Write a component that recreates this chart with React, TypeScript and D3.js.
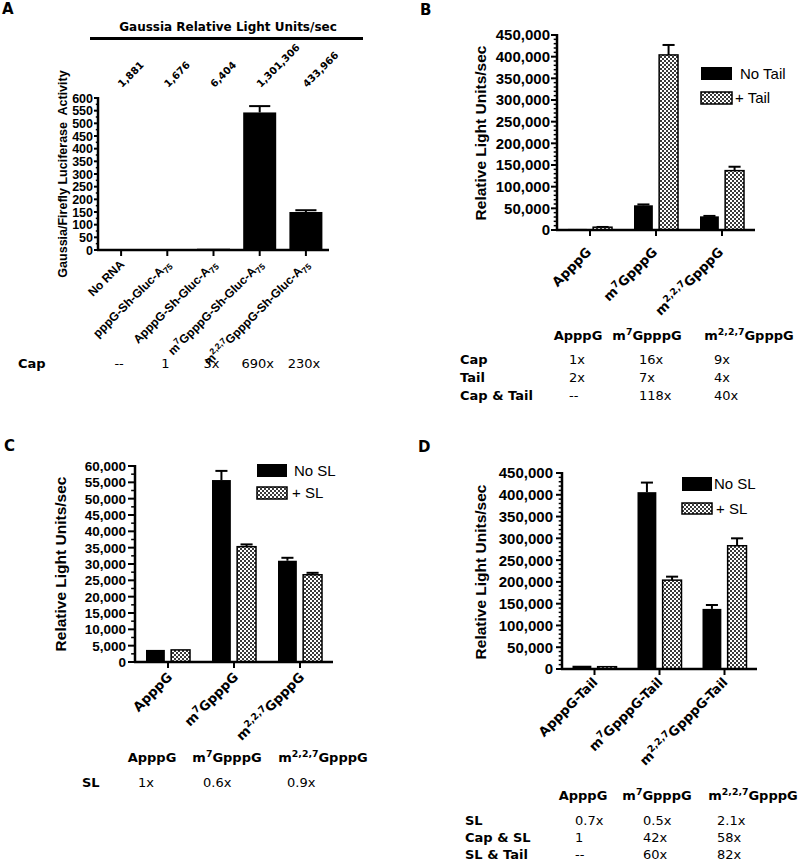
import React from 'react';
import * as d3 from 'd3';

const ARIAL = "'Liberation Sans', Arial, Helvetica, sans-serif";
const VERD = "'DejaVu Sans', Verdana, sans-serif";

// ---------- Panel A data ----------
const aCategories = [
  'No RNA',
  'pppG-Sh-Gluc-A_{75}',
  'ApppG-Sh-Gluc-A_{75}',
  'm^{7}GpppG-Sh-Gluc-A_{75}',
  'm^{2,2,7}GpppG-Sh-Gluc-A_{75}',
];
const aValues = [2.5, 2.2, 5, 543, 150];
const aErrTop = [2.5, 2.2, 5, 568, 157];
const aRLU = ['1,881', '1,676', '6,404', '1,301,306', '433,966'];
const aCap = ['--', '1', '3x', '690x', '230x'];

// ---------- Panel B data ----------
const bCategories = ['ApppG', 'm^{7}GpppG', 'm^{2,2,7}GpppG'];
const bNoTail = [2500, 57000, 31500];
const bNoTailErr = [2500, 59000, 32500];
const bTail = [6500, 404000, 137000];
const bTailErr = [7000, 427000, 146000];
const bTableCols = ['ApppG', 'm^{7}GpppG', 'm^{2,2,7}GpppG'];
const bTableRows = ['Cap', 'Tail', 'Cap & Tail'];
const bTableValues = [
  ['1x', '16x', '9x'],
  ['2x', '7x', '4x'],
  ['--', '118x', '40x'],
];

// ---------- Panel C data ----------
const cCategories = ['ApppG ', 'm^{7}GpppG ', 'm^{2,2,7}GpppG '];
const cNoSL = [3700, 55700, 31000];
const cNoSLErr = [3700, 58500, 31900];
const cSL = [3700, 35300, 26700];
const cSLErr = [3700, 36000, 27300];
const cTableCols = ['ApppG', 'm^{7}GpppG', 'm^{2,2,7}GpppG'];
const cTableRows = ['SL'];
const cTableValues = [['1x', '0.6x', '0.9x']];

// ---------- Panel D data ----------
const dCategories = ['ApppG-Tail', 'm^{7}GpppG-Tail', 'm^{2,2,7}GpppG-Tail'];
const dNoSL = [7500, 406000, 138000];
const dNoSLErr = [7500, 428000, 147000];
const dSL = [5300, 204000, 283000];
const dSLErr = [5300, 212000, 300000];
const dTableCols = ['ApppG', 'm^{7}GpppG', 'm^{2,2,7}GpppG'];
const dTableRows = ['SL', 'Cap & SL', 'SL & Tail'];
const dTableValues = [
  ['0.7x', '0.5x', '2.1x'],
  ['1', '42x', '58x'],
  ['--', '60x', '82x'],
];

type Seg = { t: string; s?: 'sup' | 'sub' };
function parseRich(str: string): Seg[] {
  const out: Seg[] = [];
  const re = /([\^_])\{([^}]*)\}/g;
  let last = 0;
  let m: RegExpExecArray | null;
  while ((m = re.exec(str))) {
    if (m.index > last) out.push({ t: str.slice(last, m.index) });
    out.push({ t: m[2], s: m[1] === '^' ? 'sup' : 'sub' });
    last = re.lastIndex;
  }
  if (last < str.length) out.push({ t: str.slice(last) });
  return out;
}

function Rich({ text, fs }: { text: string; fs: number }) {
  const segs = parseRich(text.trim());
  let cur = 0;
  return (
    <>
      {segs.map((sg, i) => {
        const target = sg.s === 'sup' ? -fs * 0.4 : sg.s === 'sub' ? fs * 0.25 : 0;
        const dy = target - cur;
        cur = target;
        return (
          <tspan key={i} dy={dy} fontSize={sg.s ? fs * 0.72 : fs}>
            {sg.t}
          </tspan>
        );
      })}
    </>
  );
}

interface Series {
  name: string;
  values: number[];
  errTop: number[];
  hatched: boolean;
}

interface PanelCfg {
  x0: number; x1: number; yTop: number; y0: number;
  max: number; major: number; minor: number;
  tickLen: number; labelGap: number; tickFs: number;
  cats: string[];
  series: Series[];
  groupW: number; padInner: number;
  xlabFs: number; xlabFont: string; xlabDx: number; xlabDy: number;
  ylabel: string; ylabX: number; ylabY: number; ylabFs: number;
}

function BarPanel({ c }: { c: PanelCfg }) {
  const y = d3.scaleLinear().domain([0, c.max]).range([c.y0, c.yTop]);
  const xc = d3.scalePoint<string>().domain(c.cats).range([c.x0, c.x1]).padding(0.5);
  const inner = d3
    .scaleBand<string>()
    .domain(c.series.map((s) => s.name))
    .range([-c.groupW / 2, c.groupW / 2])
    .paddingInner(c.padInner);
  const bw = inner.bandwidth();
  const majors = d3.range(0, c.max + 1e-9, c.major);
  const minors = d3
    .range(0, c.max + 1e-9, c.minor)
    .filter((v) => Math.abs(v / c.major - Math.round(v / c.major)) > 1e-6);
  const fmt = d3.format(',');
  return (
    <g>
      {minors.map((v) => (
        <line key={'m' + v} x1={c.x0 - c.tickLen * 0.55} x2={c.x0} y1={y(v)} y2={y(v)} stroke="#000" strokeWidth={1.5} />
      ))}
      {majors.map((v) => (
        <g key={'M' + v}>
          <line x1={c.x0 - c.tickLen} x2={c.x0} y1={y(v)} y2={y(v)} stroke="#000" strokeWidth={2} />
          <text
            x={c.x0 - c.labelGap}
            y={y(v)}
            dy="0.36em"
            textAnchor="end"
            fontFamily={ARIAL}
            fontWeight="bold"
            fontSize={c.tickFs}
          >
            {fmt(v)}
          </text>
        </g>
      ))}
      {c.series.map((s) =>
        c.cats.map((cat, i) => {
          const cx = (xc(cat) as number) + (inner(s.name) as number);
          const top = y(s.values[i]);
          return (
            <g key={s.name + cat}>
              {s.errTop[i] > s.values[i] && (
                <>
                  <line x1={cx + bw / 2} x2={cx + bw / 2} y1={top} y2={y(s.errTop[i])} stroke="#000" strokeWidth={2} />
                  <line
                    x1={cx + bw / 2 - bw * 0.32}
                    x2={cx + bw / 2 + bw * 0.32}
                    y1={y(s.errTop[i])}
                    y2={y(s.errTop[i])}
                    stroke="#000"
                    strokeWidth={2}
                  />
                </>
              )}
              <rect
                x={cx}
                y={top}
                width={bw}
                height={c.y0 - top}
                fill={s.hatched ? 'url(#chk)' : '#000'}
                stroke="#000"
                strokeWidth={s.hatched ? 1.5 : 0}
              />
            </g>
          );
        })
      )}
      <line x1={c.x0} x2={c.x0} y1={c.yTop - 1} y2={c.y0 + 1} stroke="#000" strokeWidth={2.5} />
      <line x1={c.x0 - 1} x2={c.x1} y1={c.y0} y2={c.y0} stroke="#000" strokeWidth={2.5} />
      {c.cats.map((cat) => {
        const tx = xc(cat) as number;
        const ax = tx + c.xlabDx;
        const ay = c.y0 + c.xlabDy;
        return (
          <g key={'x' + cat}>
            <line x1={tx} x2={tx} y1={c.y0} y2={c.y0 + 6} stroke="#000" strokeWidth={2} />
            <text
              transform={`translate(${ax},${ay}) rotate(-45)`}
              textAnchor="end"
              fontFamily={c.xlabFont}
              fontWeight="bold"
              fontSize={c.xlabFs}
            >
              <Rich text={cat} fs={c.xlabFs} />
            </text>
          </g>
        );
      })}
      <text
        transform={`translate(${c.ylabX},${c.ylabY}) rotate(-90)`}
        textAnchor="middle"
        dy="0.36em"
        fontFamily={ARIAL}
        fontWeight="bold"
        fontSize={c.ylabFs}
        style={{ whiteSpace: 'pre' }}
      >
        {c.ylabel}
      </text>
    </g>
  );
}

function Legend({ x, ys, labels, textX, rectW, rectHs }: { x: number; ys: number[]; labels: string[]; textX: number[]; rectW: number; rectHs: number[] }) {
  return (
    <g>
      {labels.map((l, i) => (
        <g key={l}>
          <rect
            x={x}
            y={ys[i]}
            width={rectW}
            height={rectHs[i]}
            fill={i === 0 ? '#000' : 'url(#chk)'}
            stroke="#000"
            strokeWidth={i === 0 ? 0 : 1.5}
          />
          <text x={textX[i]} y={ys[i] + rectHs[i] / 2} dy="0.36em" fontFamily={ARIAL} fontSize={15}>
            {l}
          </text>
        </g>
      ))}
    </g>
  );
}

function Table({
  cols, colX, headY, rows, rowX, rowYs, values, valX,
}: {
  cols: string[]; colX: number[]; headY: number; rows: string[]; rowX: number; rowYs: number[]; values: string[][]; valX: number[];
}) {
  return (
    <g fontFamily={VERD} fontSize={13}>
      {cols.map((h, i) => (
        <text key={h} x={colX[i]} y={headY} textAnchor="middle" fontWeight="bold">
          <Rich text={h} fs={13} />
        </text>
      ))}
      {rows.map((r, j) => (
        <g key={r}>
          <text x={rowX} y={rowYs[j]} fontWeight="bold">
            {r}
          </text>
          {values[j].map((v, i) => (
            <text key={i} x={valX[i]} y={rowYs[j]}>
              {v}
            </text>
          ))}
        </g>
      ))}
    </g>
  );
}

export default function App() {
  const panelA: PanelCfg = {
    x0: 98, x1: 329, yTop: 98, y0: 250, max: 600, major: 50, minor: 25,
    tickLen: 4, labelGap: 5, tickFs: 12.5,
    cats: aCategories,
    series: [{ name: 'A', values: aValues, errTop: aErrTop, hatched: false }],
    groupW: 33, padInner: 0,
    xlabFs: 12, xlabFont: ARIAL, xlabDx: 4, xlabDy: 15,
    ylabel: 'Gaussia/Firefly Luciferase  Activity', ylabX: 62, ylabY: 174, ylabFs: 12.5,
  };
  const panelB: PanelCfg = {
    x0: 557, x1: 755, yTop: 35, y0: 230, max: 450000, major: 50000, minor: 10000,
    tickLen: 6, labelGap: 7, tickFs: 15,
    cats: bCategories,
    series: [
      { name: 'No Tail', values: bNoTail, errTop: bNoTailErr, hatched: false },
      { name: '+ Tail', values: bTail, errTop: bTailErr, hatched: true },
    ],
    groupW: 44, padInner: 0.25,
    xlabFs: 13, xlabFont: VERD, xlabDx: 2, xlabDy: 23,
    ylabel: 'Relative Light Units/sec', ylabX: 480, ylabY: 133, ylabFs: 15.5,
  };
  const panelC: PanelCfg = {
    x0: 135, x1: 333, yTop: 466, y0: 662, max: 60000, major: 5000, minor: 2500,
    tickLen: 7, labelGap: 9, tickFs: 13.5,
    cats: cCategories,
    series: [
      { name: 'No SL', values: cNoSL, errTop: cNoSLErr, hatched: false },
      { name: '+ SL', values: cSL, errTop: cSLErr, hatched: true },
    ],
    groupW: 44, padInner: 0.25,
    xlabFs: 13, xlabFont: VERD, xlabDx: 5, xlabDy: 16,
    ylabel: 'Relative Light Units/sec', ylabX: 60, ylabY: 564, ylabFs: 15.5,
  };
  const panelD: PanelCfg = {
    x0: 562, x1: 757, yTop: 473, y0: 669, max: 450000, major: 50000, minor: 10000,
    tickLen: 6, labelGap: 9, tickFs: 15,
    cats: dCategories,
    series: [
      { name: 'No SL', values: dNoSL, errTop: dNoSLErr, hatched: false },
      { name: '+ SL', values: dSL, errTop: dSLErr, hatched: true },
    ],
    groupW: 44, padInner: 0.25,
    xlabFs: 13, xlabFont: VERD, xlabDx: 4, xlabDy: 14,
    ylabel: 'Relative Light Units/sec', ylabX: 480, ylabY: 572, ylabFs: 15.5,
  };

  const xA = d3.scalePoint<string>().domain(aCategories).range([panelA.x0, panelA.x1]).padding(0.5);
  const capY = 368;

  return (
    <svg width={800} height={861} style={{ position: 'absolute', left: 0, top: 0, background: '#fff' }}>
      <defs>
        <pattern id="chk" width={4} height={4} patternUnits="userSpaceOnUse">
          <rect width={4} height={4} fill="#fff" />
          <rect x={0} y={0} width={2} height={2} fill="#3a3a3a" />
          <rect x={2} y={2} width={2} height={2} fill="#3a3a3a" />
        </pattern>
      </defs>
      <rect width={800} height={861} fill="#fff" />

      {/* Panel letters */}
      <g fontFamily={VERD} fontWeight="bold" fontSize={15}>
        <text x={2} y={14}>A</text>
        <text x={420} y={15}>B</text>
        <text x={4} y={451}>C</text>
        <text x={418} y={452}>D</text>
      </g>

      {/* Panel A */}
      <text x={228} y={31} textAnchor="middle" fontFamily={VERD} fontWeight="bold" fontSize={12}>
        Gaussia Relative Light Units/sec
      </text>
      <line x1={90} x2={363} y1={38.5} y2={38.5} stroke="#000" strokeWidth={3} />
      {aRLU.map((t, i) => (
        <text
          key={t}
          transform={`translate(${(xA(aCategories[i]) as number) + 1},88) rotate(-45)`}
          fontFamily={VERD}
          fontWeight="bold"
          fontSize={10}
        >
          {t}
        </text>
      ))}
      <BarPanel c={panelA} />
      <text x={18} y={capY} fontFamily={VERD} fontWeight="bold" fontSize={13}>Cap</text>
      {aCap.map((t, i) => (
        <text key={i} x={(xA(aCategories[i]) as number) - 2} y={capY} textAnchor="middle" fontFamily={VERD} fontSize={13}>
          {t}
        </text>
      ))}

      {/* Panel B */}
      <BarPanel c={panelB} />
      <Legend x={701} ys={[67, 92]} rectHs={[13, 12]} rectW={31} labels={['No Tail', '+ Tail']} textX={[740, 735]} />
      <Table
        cols={bTableCols} colX={[578, 647, 749]} headY={340}
        rows={bTableRows} rowX={460} rowYs={[364, 382, 400]}
        values={bTableValues} valX={[569, 639, 714]}
      />

      {/* Panel C */}
      <BarPanel c={panelC} />
      <Legend x={257} ys={[464, 487]} rectHs={[13, 12]} rectW={30} labels={['No SL', '+ SL']} textX={[294, 292]} />
      <Table
        cols={cTableCols} colX={[152, 227, 323]} headY={762}
        rows={cTableRows} rowX={82} rowYs={[787]}
        values={cTableValues} valX={[138, 203, 287]}
      />

      {/* Panel D */}
      <BarPanel c={panelD} />
      <Legend x={682} ys={[477, 503]} rectHs={[14, 11]} rectW={30} labels={['No SL', '+ SL']} textX={[714, 716]} />
      <Table
        cols={dTableCols} colX={[583, 657, 753]} headY={800}
        rows={dTableRows} rowX={465} rowYs={[825, 842, 859]}
        values={dTableValues} valX={[575, 643, 717]}
      />
    </svg>
  );
}
